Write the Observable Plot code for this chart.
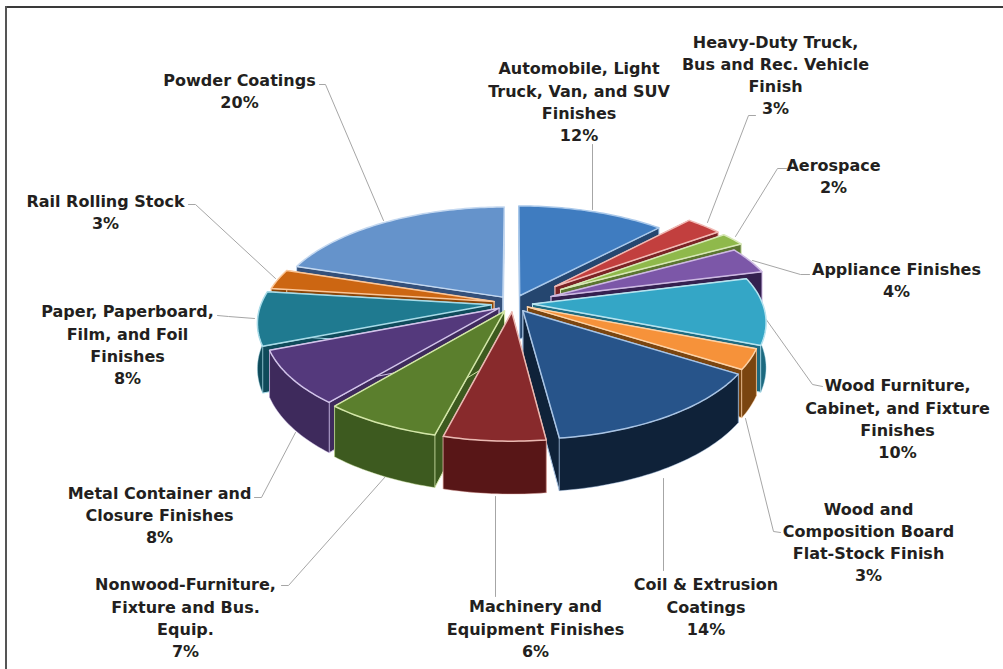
<!DOCTYPE html>
<html>
<head>
<meta charset="utf-8">
<script src="https://cdn.jsdelivr.net/npm/d3@7"></script>
<script src="https://cdn.jsdelivr.net/npm/@observablehq/plot@0.6"></script>
<style>
  html, body { margin: 0; padding: 0; background: #fff; }
  svg { display: block; }
</style>
</head>
<body>
<div id="chart"></div>
<script>
// Coating end uses and their share of the total, clockwise from twelve o'clock.
const categories = [
  "Automobile, Light\nTruck, Van, and SUV\nFinishes",
  "Heavy-Duty Truck,\nBus and Rec. Vehicle\nFinish",
  "Aerospace",
  "Appliance Finishes",
  "Wood Furniture,\nCabinet, and Fixture\nFinishes",
  "Wood and\nComposition Board\nFlat-Stock Finish",
  "Coil & Extrusion\nCoatings",
  "Machinery and\nEquipment Finishes",
  "Nonwood-Furniture,\nFixture and Bus.\nEquip.",
  "Metal Container and\nClosure Finishes",
  "Paper, Paperboard,\nFilm, and Foil\nFinishes",
  "Rail Rolling Stock",
  "Powder Coatings"
];
const shares = [12, 3, 2, 4, 10, 3, 14, 6, 7, 8, 8, 3, 20];

// How far each slice is pulled out of the pie, as a fraction of the radius.
const explosion = [0.08, 0.25, 0.25, 0.18, 0.085, 0.07, 0.08, 0.08, 0.08, 0.075, 0.095, 0.085, 0.075];

const topColors = ["#3f7cc0", "#c23f3e", "#8fb94b", "#7c57a8", "#34a6c6", "#f6923a", "#27548a",
                   "#882a2c", "#5b7f2d", "#54397c", "#1f7a90", "#cc6612", "#6593cb"];
const sideColors = ["#25466f", "#7a2326", "#5a7530", "#34204f", "#1d6a80", "#7a4510", "#0f2239",
                    "#581617", "#3d5a1f", "#3e2a5c", "#0f4a5a", "#8a4508", "#34507a"];
const edgeColors = ["#a9c8ea", "#f0b9b4", "#d8e8b8", "#cdb9e2", "#b7e3ef", "#fcd3a8", "#a9c4e4",
                    "#eab9b2", "#d3e6a8", "#d2c4ea", "#a8dbe8", "#fbc79a", "#c4d8f0"];

// Label anchors and the elbowed leader lines joining them to their slices.
const labelX = [578.5, 775, 833, 896, 897, 868, 705.5, 535, 185, 159, 127, 105, 239];
const labelY = [100, 73.5, 174.5, 278.5, 417, 540.5, 605, 627, 616, 513.5, 343, 210, 89.5];
const leaders = [
  [[592, 144], [592, 209]],
  [[755, 115], [748, 115], [707, 222]],
  [[786, 168], [777, 168], [735, 236]],
  [[809, 274], [800, 274], [752, 260]],
  [[822, 386], [812, 384], [765, 318]],
  [[780, 532], [773, 531], [745, 418]],
  [[663, 570], [663, 478]],
  [[495, 596], [495, 496]],
  [[281, 585], [288, 585], [385, 476]],
  [[254, 497], [261, 497], [295, 432]],
  [[217, 315], [228, 316], [254, 318]],
  [[188, 204], [195, 204], [275, 278]],
  [[319, 84], [325, 84], [383, 220]]
];

// Geometry of the tilted pie: a unit disc seen in perspective and given a thickness.
const centerX = 512.5, centerY = 303, radiusX = 230, radiusY = 106, depth = 44, perspective = 0.156;
const project = ([u, v], z = 0) => {
  const s = 1 / (1 - perspective * v);
  return {x: centerX + radiusX * u * s, y: centerY + (radiusY * v + depth * z) * s};
};

const total = d3.sum(shares);
const cumulative = d3.cumsum(shares);
const slices = shares.map((share, i) => {
  const a0 = ((cumulative[i] - share) / total) * 2 * Math.PI;
  const a1 = (cumulative[i] / total) * 2 * Math.PI;
  const mid = (a0 + a1) / 2;
  const apex = [explosion[i] * Math.sin(mid), -explosion[i] * Math.cos(mid)];
  const rim = (a) => [apex[0] + Math.sin(a), apex[1] - Math.cos(a)];
  const steps = Math.max(2, Math.ceil((a1 - a0) / 0.02));
  const angles = d3.range(steps + 1).map((k) => a0 + ((a1 - a0) * k) / steps);
  return {i, a0, a1, mid, apex, rim, angles};
});

// Closed outline of one face, in the plot's x/y units.
const outline = (points) => [...points, points[0]];

const face = (points, fill, stroke, strokeWidth, strokeOpacity = 1) =>
  Plot.line(outline(points), {
    x: "x", y: "y", fill, stroke, strokeWidth, strokeOpacity,
    curve: "linear", strokeLinejoin: "round"
  });

// Back slices first, so nearer ones overlap them.
const drawOrder = d3.sort(slices, (s) => -Math.cos(s.mid));

const sliceMarks = drawOrder.flatMap(({i, a0, a1, apex, rim, angles}) => {
  const wall = (a) => [project(apex), project(rim(a)), project(rim(a), 1), project(apex, 1)];
  const front = angles.filter((a) => Math.cos(a) < 0.12);
  const marks = [
    face(wall(a0), sideColors[i], edgeColors[i], 1),
    face(wall(a1), sideColors[i], edgeColors[i], 1)
  ];
  if (front.length > 1) {
    marks.push(face(
      [...front.map((a) => project(rim(a))), ...front.slice().reverse().map((a) => project(rim(a), 1))],
      sideColors[i], edgeColors[i], 1, 0.45
    ));
  }
  marks.push(face(
    [project(apex), ...angles.map((a) => project(rim(a)))],
    topColors[i], edgeColors[i], 1.5
  ));
  return marks;
});

const labels = categories.map((name, i) => ({
  text: `${name}\n${shares[i]}%`, x: labelX[i], y: labelY[i]
}));

const chart = Plot.plot({
  width: 1003,
  height: 669,
  margin: 0,
  x: {domain: [0, 1003], range: [0, 1003], axis: null},
  y: {domain: [0, 669], range: [0, 669], axis: null},
  marks: [
    // The panel shows a rule along its top and left sides only.
    Plot.ruleY([6.5], {stroke: "#3a3a3a", strokeWidth: 2, x1: 5, x2: 1003}),
    Plot.ruleX([5.5], {stroke: "#555", strokeWidth: 2, y1: 6, y2: 669}),
    ...leaders.map((points) =>
      Plot.line(points.map(([x, y]) => ({x, y})), {x: "x", y: "y", stroke: "#a6a6a6", strokeWidth: 1, curve: "linear"})
    ),
    ...sliceMarks,
    Plot.text(labels, {
      x: "x", y: "y", text: "text",
      fontFamily: "DejaVu Sans", fontWeight: "bold", fontSize: 16,
      lineHeight: 1.39, fill: "#231f20", textAnchor: "middle", lineAnchor: "middle"
    })
  ]
});
document.getElementById("chart").append(chart);
</script>
</body>
</html>
